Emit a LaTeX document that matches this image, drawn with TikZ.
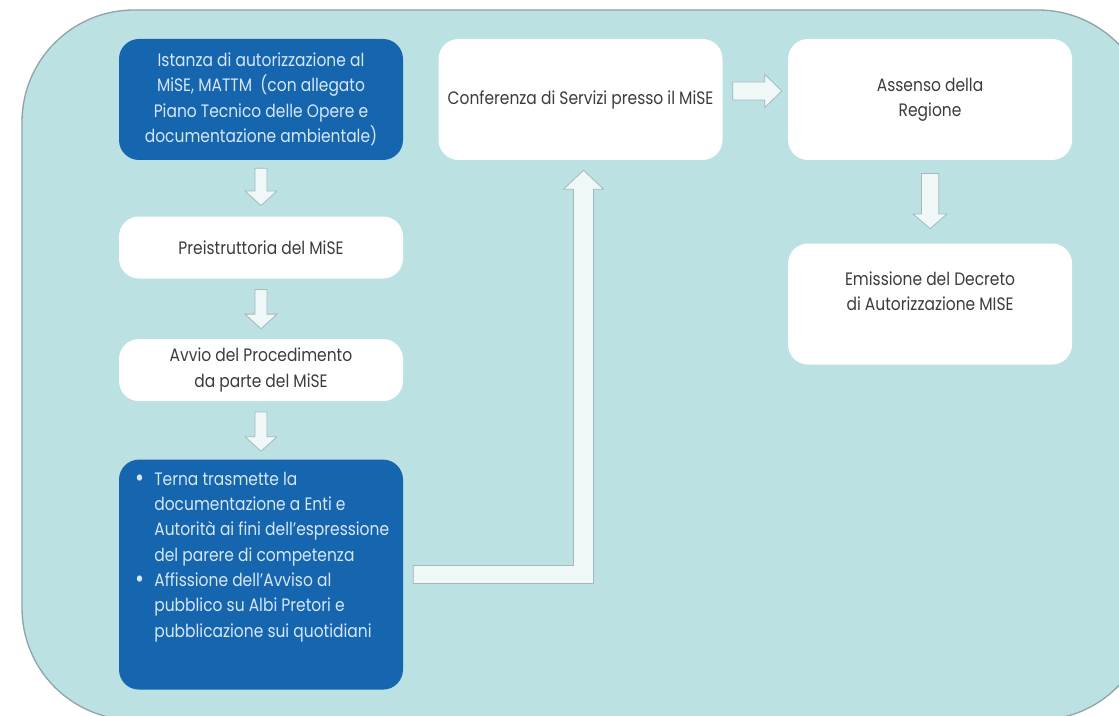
\documentclass[tikz,border=0pt]{standalone}
\usepackage{fontspec}
\setmainfont[FakeStretch=0.86]{Poppins}
\usetikzlibrary{positioning,calc}

\definecolor{panelteal}{HTML}{BBE1E2}
\definecolor{panelline}{HTML}{8FA5A8}
\definecolor{stepblue}{HTML}{1565AF}
\definecolor{steptext}{HTML}{D7E7F5}
\definecolor{bodytext}{HTML}{3C3C3C}
\definecolor{arrowfill}{HTML}{EFF7F7}
\definecolor{arrowline}{HTML}{A3B9BC}

% block arrow pointing down: from, to, shaft half, head half, head length, top gap, bottom gap
\newcommand{\blockdown}[7]{%
  \path[blockarrow] let \p1=(#1.south), \p2=(#2.north) in
    (\x1-#3,\y1-#6) -- (\x1+#3,\y1-#6) -- (\x1+#3,\y2+#7+#5) -- (\x1+#4,\y2+#7+#5)
    -- (\x1,\y2+#7) -- (\x1-#4,\y2+#7+#5) -- (\x1-#3,\y2+#7+#5) -- cycle;}
\newcommand{\bigbullet}{\makebox[14.5pt][l]{\raisebox{-0.6pt}{\fontsize{19}{19}\selectfont\textbullet}}}

\begin{document}
\begin{tikzpicture}[x=0.75pt, y=0.75pt,
    stepbox/.style={rectangle, rounded corners=15pt, minimum width=213pt, inner sep=0pt, align=center, font=\fontsize{13.5}{19}\selectfont},
    bluebox/.style={stepbox, fill=stepblue, text=steptext},
    whitebox/.style={stepbox, fill=white, text=bodytext},
    blockarrow/.style={fill=arrowfill, draw=arrowline, line width=0.6pt, line join=miter}
]
\useasboundingbox (0,0) rectangle (1119,716);
\path[fill=panelteal, draw=panelline, line width=1pt, rounded corners=84pt] (22,706) rectangle (1150,-4);

% left column
\node[bluebox, minimum height=90.75pt] (istanza) at (261,616.5) {Istanza di autorizzazione al\\MiSE, MATTM~ (con allegato\\Piano Tecnico delle Opere e\\documentazione ambientale)};
\node[whitebox, minimum height=46.5pt, below=42pt of istanza] (preistruttoria) {Preistruttoria del MiSE};
\node[whitebox, minimum height=46.5pt, below=45pt of preistruttoria] (avvio) {Avvio del Procedimento\\da parte del MiSE};
\node[bluebox, below=43.5pt of avvio] (terna) {\parbox[c][172.5pt][t]{213pt}{\vspace*{6pt}\hspace*{12pt}%
  \begin{tabular}{@{}l@{}l@{}}
  \bigbullet & Terna trasmette la\\
   & documentazione a Enti e\\
   & Autorità ai fini dell’espressione\\
   & del parere di competenza\\
  \bigbullet & Affissione dell’Avviso al\\
   & pubblico su Albi Pretori e\\
   & pubblicazione sui quotidiani
  \end{tabular}}};

% right part
\node[whitebox, minimum height=90.75pt, right=26.25pt of istanza] (conferenza) {Conferenza di Servizi presso il MiSE};
\node[whitebox, minimum height=90.75pt, right=48.75pt of conferenza] (assenso) {Assenso della\\Regione};
\node[whitebox, minimum height=90.75pt, below=62.25pt of assenso] (decreto) {Emissione del Decreto\\di Autorizzazione MISE\\\mbox{}};

% arrows
\blockdown{istanza}{preistruttoria}{4.5pt}{12pt}{11pt}{6pt}{8pt}
\blockdown{preistruttoria}{avvio}{4.5pt}{12pt}{11pt}{8pt}{7.5pt}
\blockdown{avvio}{terna}{4.5pt}{12pt}{11pt}{8pt}{6pt}
\blockdown{assenso}{decreto}{6.5pt}{12.75pt}{11pt}{10pt}{11pt}

\path[blockarrow] let \p1=(conferenza.east), \p2=(assenso.west) in
  (\x1+7.5pt,\y1+13.15pt) -- (\x2-17.25pt,\y1+13.15pt) -- (\x2-17.25pt,\y1+18.8pt)
  -- (\x2-4.5pt,\y1+6.4pt) -- (\x2-17.25pt,\y1-6pt) -- (\x2-17.25pt,\y1-0.35pt)
  -- (\x1+7.5pt,\y1-0.35pt) -- cycle;

\path[blockarrow] let \p1=(terna.east), \p2=(conferenza.south) in
  (\x1+7.5pt,\y1+6.75pt) -- (\x2-5.25pt,\y1+6.75pt) -- (\x2-5.25pt,\y2-21.75pt)
  -- (\x2-12.75pt,\y2-21.75pt) -- (\x2+2.25pt,\y2-7.5pt) -- (\x2+17.25pt,\y2-21.75pt)
  -- (\x2+9.75pt,\y2-21.75pt) -- (\x2+9.75pt,\y1-6.75pt) -- (\x1+7.5pt,\y1-6.75pt) -- cycle;

\end{tikzpicture}
\end{document}
